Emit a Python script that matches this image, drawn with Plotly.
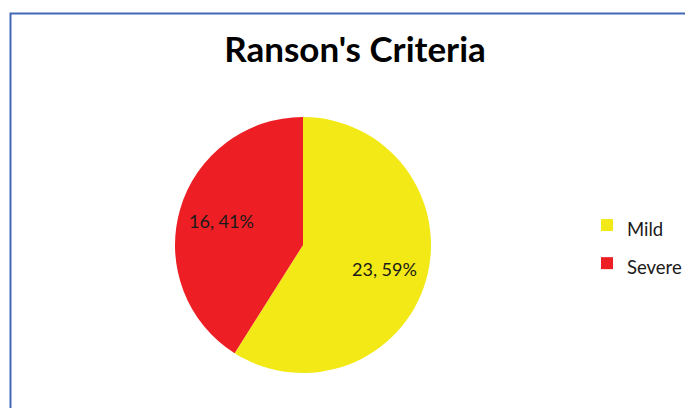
import math
import plotly.graph_objects as go

# Ranson's criteria - severity split
labels = ['Mild', 'Severe']
values = [23, 16]
colors = ['#F2E917', '#ED1F24']

W, H = 693, 408
OFF = 8  # page body margin of the html file

# pie placement (figure pixels)
cx, cy, r = 303 - OFF, 245 - OFF, 128

fig = go.Figure()

fig.add_trace(
    go.Pie(labels=['<span style="font-size:18.5px">%s</span>' % lab for lab in labels],
           values=values,
           sort=False,
           direction='clockwise',
           rotation=0,
           marker=dict(colors=colors, line=dict(width=0)),
           textinfo='none',
           hoverinfo='value+percent',
           domain=dict(x=[(cx - r) / W, (cx + r) / W],
                       y=[1 - (cy + r) / H, 1 - (cy - r) / H])))

# data labels, Excel style: "value, percent" at 2/3 of the radius
total = sum(values)
start = 0
annotations = []
for v in values:
    mid = (start + v / 2) / total * 2 * math.pi
    start += v
    annotations.append(dict(x=(cx + 0.66 * r * math.sin(mid)) / W,
                            y=1 - (cy - 0.66 * r * math.cos(mid)) / H,
                            xref='paper', yref='paper',
                            xanchor='center', yanchor='middle',
                            text='%d, %d%%' % (v, round(100 * v / total)),
                            showarrow=False,
                            font=dict(family='Lato', size=18, color='#1a1a1a')))

fig.update_layout(width=W, height=H,
                  margin=dict(l=0, r=0, t=0, b=0),
                  paper_bgcolor='white',
                  title=dict(text="<b>Ranson's Criteria</b>",
                             x=(355 - OFF) / W, y=1 - (50 - OFF) / H,
                             xanchor='center', yanchor='middle',
                             font=dict(family='Lato', size=35, color='black')),
                  legend=dict(x=(587 - OFF) / W, y=1 - (244.5 - OFF) / H,
                              xanchor='left', yanchor='middle',
                              font=dict(family='Lato', size=27, color='#1a1a1a'),
                              tracegroupgap=0, itemsizing='constant'),
                  annotations=annotations,
                  shapes=[dict(type='rect', xref='paper', yref='paper',
                               x0=(10.5 - OFF) / W, x1=1.05, y0=-0.05,
                               y1=1 - (13.5 - OFF) / H,
                               line=dict(color='#4268B5', width=2))])

fig.write_html("out.html")
